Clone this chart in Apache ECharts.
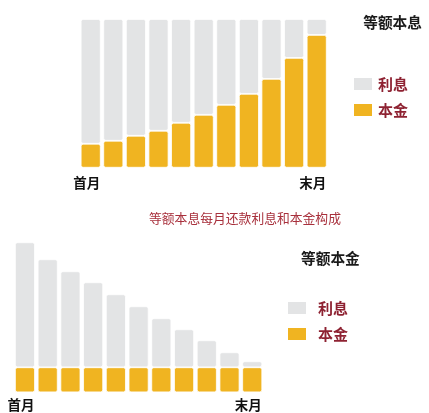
<!DOCTYPE html>
<html><head><meta charset="utf-8">
<script src="https://cdn.jsdelivr.net/npm/echarts@6/dist/echarts.min.js"></script>
<style>html,body{margin:0;padding:0;background:#fff}#c{width:429px;height:413px}</style>
</head><body><div id="c"></div>
<script>
// 期数（只显示首月与末月）
const months = ['首月','第2月','第3月','第4月','第5月','第6月','第7月','第8月','第9月','第10月','末月'];
// 等额本息：每月本金与利息（相对单位）
const annuityPrincipal = [24, 27, 32, 37, 45, 53, 63, 74, 89, 110, 133];
const annuityInterest  = [125, 122, 117, 112, 104, 96, 86, 75, 60, 39, 16];
// 等额本金：每月本金与利息（相对单位）
const linearPrincipal = [25, 25, 25, 25, 25, 25, 25, 25, 25, 25, 25];
const linearInterest  = [125, 108, 96, 85, 73, 61, 49, 38, 27, 15, 6];

const seriesNames = ['利息', '本金'];
const titles = ['等额本息', '等额本金'];
const caption = '等额本息每月还款利息和本金构成';

const GRAY = '#e3e4e5', GOLD = '#f0b421', RED = '#8e2232';
const FONT = '"Noto Sans CJK SC", sans-serif';

const chart = echarts.init(document.getElementById('c'));
const xLab = {
  interval: (i) => i === 0 || i === months.length - 1,
  fontFamily: FONT, fontWeight: 'bold', fontSize: 13.5, color: '#111',
  padding: [0, 8, 0, 0]
};
function xAxis(gi, margin) {
  return { type: 'category', gridIndex: gi, data: months,
    axisLine: {show: false}, axisTick: {show: false},
    axisLabel: Object.assign({margin: margin}, xLab) };
}
function yAxis(gi, max) {
  return { type: 'value', gridIndex: gi, min: 0, max: max, show: false, splitLine: {show: false} };
}
function bar(name, gi, data, color, stack) {
  return { type: 'bar', name: name, xAxisIndex: gi, yAxisIndex: gi, stack: stack,
    data: data, barWidth: 20,
    itemStyle: {color: color, borderRadius: 2, borderColor: '#fff', borderWidth: 0.8},
    emphasis: {disabled: true}, animation: false };
}
function legend(left, top, textGap) {
  return {
    orient: 'vertical', left: left, top: top, itemWidth: 20, itemHeight: 14, itemGap: 10, icon: 'rect',
    textStyle: {fontFamily: FONT, fontWeight: 'bold', fontSize: 15, color: RED, padding: [0, 0, 0, textGap]},
    data: seriesNames, selectedMode: false
  };
}
chart.setOption({
  animation: false,
  grid: [
    {left: 79.4, width: 248.6, top: 19, height: 148.7},
    {left: 13.6, width: 250, top: 242.3, height: 150}
  ],
  xAxis: [xAxis(0, 8), xAxis(1, 6)],
  yAxis: [yAxis(0, 149), yAxis(1, 150)],
  legend: [legend(347, 71, 0), legend(281, 295, 6)],
  title: [
    {text: titles[0], right: 2, top: 10, textStyle: {fontFamily: FONT, fontWeight: 'bold', fontSize: 14.7, color: '#1a1a1a'}},
    {text: titles[1], left: 296, top: 246, textStyle: {fontFamily: FONT, fontWeight: 'bold', fontSize: 14.7, color: '#1a1a1a'}},
    {text: caption, left: 144, top: 207, textStyle: {fontFamily: FONT, fontWeight: 'normal', fontSize: 12.8, color: '#a8303c'}}
  ],
  series: [
    bar(seriesNames[1], 0, annuityPrincipal, GOLD, 'a'),
    bar(seriesNames[0], 0, annuityInterest, GRAY, 'a'),
    bar(seriesNames[1], 1, linearPrincipal, GOLD, 'b'),
    bar(seriesNames[0], 1, linearInterest, GRAY, 'b')
  ]
});
</script></body></html>
